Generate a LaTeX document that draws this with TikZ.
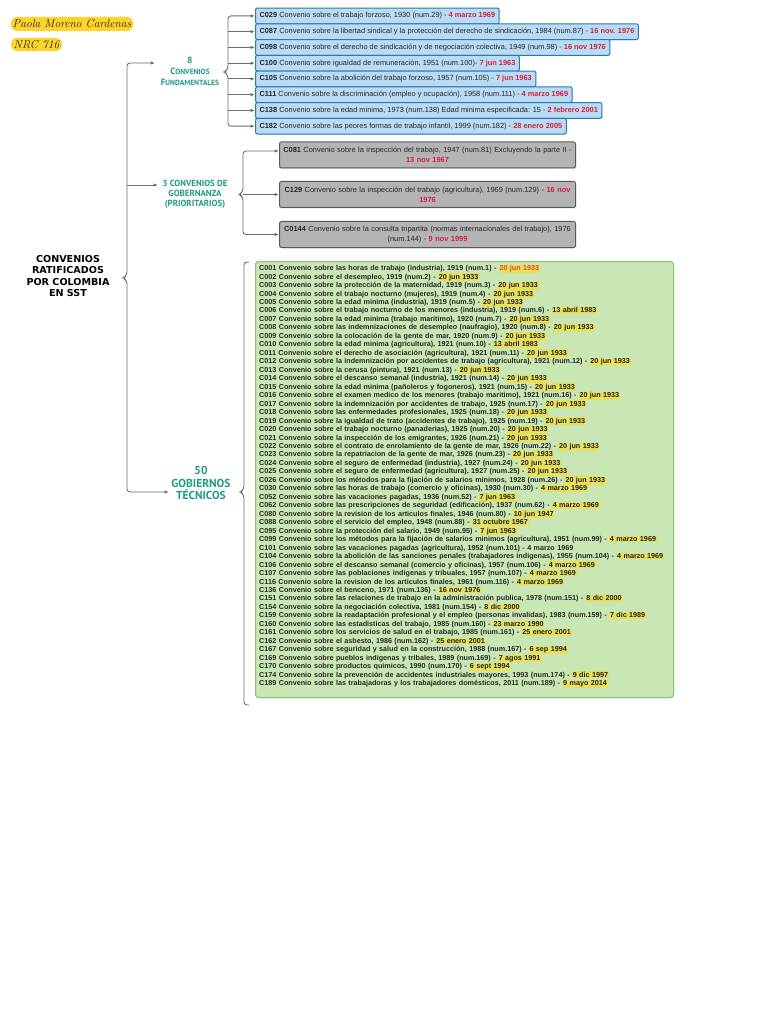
\documentclass[tikz,border=0pt]{standalone}
\usepackage{fontspec}
\usepackage{xcolor}
\usetikzlibrary{positioning,shadows,arrows.meta}
\newfontfamily\listafont{Liberation Sans}
\newfontfamily\titulofont{DejaVu Sans}
\newfontfamily\rotulofont{PT Sans}
\definecolor{celeste}{HTML}{B9DBF3}
\definecolor{bordeazul}{HTML}{2A78B8}
\definecolor{grisclaro}{HTML}{B4B4B4}
\definecolor{bordegris}{HTML}{5A5A5A}
\definecolor{verdeclaro}{HTML}{C9E7B4}
\definecolor{bordeverde}{HTML}{86C46A}
\definecolor{verdeazul}{HTML}{1E9C82}
\definecolor{linea}{HTML}{6E6E6E}
\definecolor{resalte}{HTML}{E8DF5A}
\definecolor{rojo}{HTML}{D4213D}
\definecolor{naranja}{HTML}{E0502A}
\definecolor{amarillo}{HTML}{FFD42A}
\definecolor{texto}{HTML}{262626}
\newcommand{\cajafont}{\listafont\fontsize{7.4}{10}\selectfont}
\newcommand{\rojo}[1]{\textcolor{rojo}{\textbf{#1}}}
\newcommand{\fecha}[1]{{\setlength{\fboxsep}{0.7pt}\colorbox{resalte}{#1}}}
\newcommand{\pc}[2]{{\fontsize{9}{11}\selectfont #1}{\fontsize{7.5}{11}\selectfont #2}}
\tikzset{punta/.tip={Latex[length=4.5pt,width=3.5pt]}}

\begin{document}
\begin{tikzpicture}[x=1pt,y=-1pt,
		flecha/.style={draw=linea, line width=0.9pt, -punta},
		llave/.style={draw=linea, line width=0.9pt, rounded corners=3pt},
		azul/.style={draw=bordeazul, fill=celeste, line width=1pt, rounded corners=2pt, anchor=west, minimum height=15.75pt, inner xsep=4pt, inner ysep=0pt, text=texto, font=\cajafont, drop shadow={shadow xshift=0.5pt, shadow yshift=-0.8pt, opacity=0.25}},
		gris/.style={draw=bordegris, fill=grisclaro, line width=1pt, rounded corners=2pt, anchor=west, minimum width=296pt, minimum height=26pt, text width=292pt, inner xsep=2pt, inner ysep=0pt, align=center, text=texto, font=\cajafont, drop shadow={shadow xshift=0.5pt, shadow yshift=-0.8pt, opacity=0.25}},
		rotulo/.style={text=verdeazul, align=center, inner sep=0pt}]
			\fill[white] (0,0) rectangle (768,1024);
			\useasboundingbox (0,0) rectangle (768,1024);
			
			\node[fill=amarillo, rounded corners=6pt, minimum width=122pt, minimum height=14pt, inner sep=0pt, text=texto, font=\itshape\fontsize{11.5}{12}\selectfont] (autora) at (72,24) {Paola Moreno Cardenas};
			\node[fill=amarillo, rounded corners=6pt, minimum width=51pt, minimum height=13pt, inner sep=0pt, text=texto, font=\itshape\fontsize{11.5}{12}\selectfont] (nrc) at (36.5,44.5) {NRC 716};
			
			\node[align=center, inner sep=0pt, text=black, font=\titulofont\bfseries\fontsize{9.6}{11.3}\selectfont] (raiz) at (68,276) {CONVENIOS\\RATIFICADOS\\POR COLOMBIA\\EN SST};
			\node[rotulo, font=\rotulofont\bfseries\fontsize{9}{11}\selectfont] (fund) at (190,71) {\pc{8}{}\\\pc{C}{ONVENIOS}\\\pc{F}{UNDAMENTALES}};
			\node[rotulo, font=\rotulofont\bfseries\fontsize{8.8}{10}\selectfont] (gob) at (195,194) {3 CONVENIOS DE\\GOBERNANZA\\(PRIORITARIOS)};
			\node[rotulo, font=\rotulofont\bfseries\fontsize{11.5}{12.2}\selectfont] (tec) at (201,483) {50\\GOBIERNOS\\TÉCNICOS};
			
			\node[azul] (f1) at (255,15.9) {\textbf{C029} Convenio sobre el trabajo forzoso, 1930 (num.29) - \rojo{4 marzo 1969}};
			\node[azul] (f2) at (255,31.65) {\textbf{C087} Convenio sobre la libertad sindical y la protección del derecho de sindicación, 1984 (num.87) - \rojo{16 nov. 1976}};
			\node[azul] (f3) at (255,47.4) {\textbf{C098} Convenio sobre el derecho de sindicación y de negociación colectiva, 1949 (num.98) - \rojo{16 nov 1976}};
			\node[azul] (f4) at (255,63.15) {\textbf{C100} Convenio sobre igualdad de remuneración, 1951 (num.100)- \rojo{7 jun 1963}};
			\node[azul] (f5) at (255,78.9) {\textbf{C105} Convenio sobre la abolición del trabajo forzoso, 1957 (num.105) - \rojo{7 jun 1963}};
			\node[azul] (f6) at (255,94.65) {\textbf{C111} Convenio sobre la discriminación (empleo y ocupación), 1958 (num.111) - \rojo{4 marzo 1969}};
			\node[azul] (f7) at (255,110.4) {\textbf{C138} Convenio sobre la edad minima, 1973 (num.138) Edad minima especificada: 15 - \rojo{2 febrero 2001}};
			\node[azul] (f8) at (255,126.15) {\textbf{C182} Convenio sobre las peores formas de trabajo infantil, 1999 (num.182) - \rojo{28 enero 2005}};
			
			\node[gris] (g1) at (279,155) {\textbf{C081} Convenio sobre la inspección del trabajo, 1947 (num.81) Excluyendo la parte II -\\\rojo{13 nov 1967}};
			\node[gris] (g2) at (279,194.5) {\textbf{C129} Convenio sobre la inspección del trabajo (agricultura), 1969 (num.129) - \rojo{16 nov}\\\rojo{1976}};
			\node[gris] (g3) at (279,234.5) {\textbf{C0144} Convenio sobre la consulta tripartita (normas internacionales del trabajo), 1976\\(num.144) - \rojo{9 nov 1999}};
			
			\node[draw=bordeverde, fill=verdeclaro, line width=1pt, rounded corners=3pt, minimum width=418pt, minimum height=436pt, anchor=north west, inner sep=0pt, drop shadow={shadow xshift=0.5pt, shadow yshift=-0.8pt, opacity=0.25}] (verde) at (255,261) {};
			\node[anchor=north west, inner sep=0pt, text width=414pt, align=left, text=texto, font=\listafont\bfseries\fontsize{7.2}{8.47}\selectfont] (lista) at (259,264.5) {\lineskiplimit=-10pt
				C001 Convenio sobre las horas de trabajo (industria), 1919 (num.1) - \fecha{\textcolor{naranja}{20 jun 1933}}\\
				C002 Convenio sobre el desempleo, 1919 (num.2) - \fecha{20 jun 1933}\\
				C003 Convenio sobre la protección de la maternidad, 1919 (num.3) - \fecha{20 jun 1933}\\
				C004 Convenio sobre el trabajo nocturno (mujeres), 1919 (num.4) - \fecha{20 jun 1933}\\
				C005 Convenio sobre la edad minima (industria), 1919 (num.5) - \fecha{20 jun 1933}\\
				C006 Convenio sobre el trabajo nocturno de los menores (industria), 1919 (num.6) - \fecha{13 abril 1983}\\
				C007 Convenio sobre la edad minima (trabajo maritimo), 1920 (num.7) - \fecha{20 jun 1933}\\
				C008 Convenio sobre las indemnizaciones de desempleo (naufragio), 1920 (num.8) - \fecha{20 jun 1933}\\
				C009 Convenio sobre la colocación de la gente de mar, 1920 (num.9) - \fecha{20 jun 1933}\\
				C010 Convenio sobre la edad minima (agricultura), 1921 (num.10) - \fecha{13 abril 1983}\\
				C011 Convenio sobre el derecho de asociación (agricultura), 1921 (num.11) - \fecha{20 jun 1933}\\
				C012 Convenio sobre la indemnización por accidentes de trabajo (agricultura), 1921 (num.12) - \fecha{20 jun 1933}\\
				C013 Convenio sobre la cerusa (pintura), 1921 (num.13) - \fecha{20 jun 1933}\\
				C014 Convenio sobre el descanso semanal (industria), 1921 (num.14) - \fecha{20 jun 1933}\\
				C015 Convenio sobre la edad minima (pañoleros y fogoneros), 1921 (num,15) - \fecha{20 jun 1933}\\
				C016 Convenio sobre el examen medico de los menores (trabajo maritimo), 1921 (num.16) - \fecha{20 jun 1933}\\
				C017 Convenio sobre la indemnización por accidentes de trabajo, 1925 (num.17) - \fecha{20 jun 1933}\\
				C018 Convenio sobre las enfermedades profesionales, 1925 (num.18) - \fecha{20 jun 1933}\\
				C019 Convenio sobre la igualdad de trato (accidentes de trabajo), 1925 (num.19) - \fecha{20 jun 1933}\\
				C020 Convenio sobre el trabajo nocturno (panaderias), 1925 (num.20) - \fecha{20 jun 1933}\\
				C021 Convenio sobre la inspección de los emigrantes, 1926 (num.21) - \fecha{20 jun 1933}\\
				C022 Convenio sobre el contrato de enrolamiento de la gente de mar, 1926 (num.22) - \fecha{20 jun 1933}\\
				C023 Convenio sobre la repatriacion de la gente de mar, 1926 (num.23) - \fecha{20 jun 1933}\\
				C024 Convenio sobre el seguro de enfermedad (industria), 1927 (num.24) - \fecha{20 jun 1933}\\
				C025 Convenio sobre el seguro de enfermedad (agricultura), 1927 (num.25) - \fecha{20 jun 1933}\\
				C026 Convenio sobre los métodos para la fijación de salarios minimos, 1928 (num.26) - \fecha{20 jun 1933}\\
				C030 Convenio sobre las horas de trabajo (comercio y oficinas), 1930 (num.30) - \fecha{4 marzo 1969}\\
				C052 Convenio sobre las vacaciones pagadas, 1936 (num.52) - \fecha{7 jun 1963}\\
				C062 Convenio sobre las prescripciones de seguridad (edificación), 1937 (num.62) - \fecha{4 marzo 1969}\\
				C080 Convenio sobre la revision de los articulos finales, 1946 (num.80) - \fecha{10 jun 1947}\\
				C088 Convenio sobre el servicio del empleo, 1948 (num.88) - \fecha{31 octubre 1967}\\
				C095 Convenio sobre la protección del salario, 1949 (num.95) - \fecha{7 jun 1963}\\
				C099 Convenio sobre los métodos para la fijación de salarios minimos (agricultura), 1951 (num.99) - \fecha{4 marzo 1969}\\
				C101 Convenio sobre las vacaciones pagadas (agricultura), 1952 (num.101) - 4 marzo 1969\\
				C104 Convenio sobre la abolición de las sanciones penales (trabajadores indigenas), 1955 (num.104) - \fecha{4 marzo 1969}\\
				C106 Convenio sobre el descanso semanal (comercio y oficinas), 1957 (num.106) - \fecha{4 marzo 1969}\\
				C107 Convenio sobre las poblaciones indigenas y tribuales, 1957 (num.107) - \fecha{4 marzo 1969}\\
				C116 Convenio sobre la revision de los articulos finales, 1961 (num.116) - \fecha{4 marzo 1969}\\
				C136 Convenio sobre el benceno, 1971 (num.136) - \fecha{16 nov 1976}\\
				C151 Convenio sobre las relaciones de trabajo en la administración publica, 1978 (num.151) - \fecha{8 dic 2000}\\
				C154 Convenio sobre la negociación colectiva, 1981 (num.154) - \fecha{8 dic 2000}\\
				C159 Convenio sobre la readaptación profesional y el empleo (personas invalidas), 1983 (num.159) - \fecha{7 dic 1989}\\
				C160 Convenio sobre las estadisticas del trabajo, 1985 (num.160) - \fecha{23 marzo 1990}\\
				C161 Convenio sobre los servicios de salud en el trabajo, 1985 (num.161) - \fecha{25 enero 2001}\\
				C162 Convenio sobre el asbesto, 1986 (num.162) - \fecha{25 enero 2001}\\
				C167 Convenio sobre seguridad y salud en la construcción, 1988 (num.167) - \fecha{6 sep 1994}\\
				C169 Convenio sobre pueblos indigenas y tribales, 1989 (num.169) - \fecha{7 agos 1991}\\
				C170 Convenio sobre productos quimicos, 1990 (num.170) - \fecha{6 sept 1994}\\
				C174 Convenio sobre la prevención de accidentes industriales mayores, 1993 (num.174) - \fecha{9 dic 1997}\\
				C189 Convenio sobre las trabajadoras y los trabajadores domésticos, 2011 (num.189) - \fecha{9 mayo 2014}};
			
			\coordinate (ejeM) at (127,278);
			\coordinate (pFund) at (155,63);
			\coordinate (pGob) at (158,185);
			\coordinate (pTec) at (169,492);
			\draw[llave, punta-punta] (pFund) -- (pFund -| ejeM) -- ([yshift=3pt]ejeM) -- ([xshift=-4pt]ejeM) -- ([yshift=-3pt]ejeM) -- (pTec -| ejeM) -- (pTec);
			\draw[flecha] (pGob -| ejeM) -- (pGob);
			
			\coordinate (ejeF) at (228,72);
			\draw[llave, punta-punta] (f1.west) -- (f1.west -| ejeF) -- ([yshift=3pt]ejeF) -- ([xshift=-4pt]ejeF) -- ([yshift=-3pt]ejeF) -- (f8.west -| ejeF) -- (f8.west);
			\foreach \i in {2,...,7}
				\draw[flecha] (f\i.west -| ejeF) -- (f\i.west);
			
			\coordinate (ejeG) at (243,194.5);
			\draw[llave, punta-punta] ([yshift=4pt]g1.west) -- ([yshift=4pt]g1.west -| ejeG) -- ([yshift=3pt]ejeG) -- ([xshift=-4pt]ejeG) -- ([yshift=-3pt]ejeG) -- (g3.west -| ejeG) -- (g3.west);
			\draw[flecha] (g2.west -| ejeG) -- (g2.west);
			
			\coordinate (ejeV) at (244,492);
			\coordinate (vSup) at (249,262);
			\coordinate (vInf) at (249,705);
			\draw[llave] (vSup) -- (vSup -| ejeV) -- ([yshift=3pt]ejeV) -- ([xshift=-4pt]ejeV) -- ([yshift=-3pt]ejeV) -- (vInf -| ejeV) -- (vInf);
		\end{tikzpicture}
\end{document}
